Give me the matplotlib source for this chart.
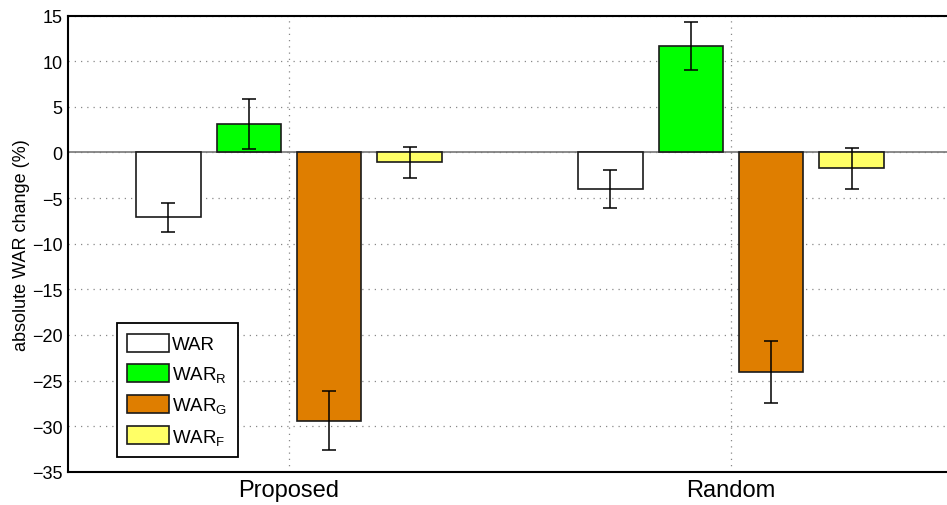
import matplotlib
matplotlib.use("Agg")
import matplotlib.pyplot as plt
import numpy as np

plt.rcParams['font.family'] = ['Liberation Sans', 'DejaVu Sans']
plt.rcParams['mathtext.fontset'] = 'custom'
plt.rcParams['mathtext.rm'] = 'Liberation Sans'
plt.rcParams['mathtext.it'] = 'Liberation Sans'

groups = ["Proposed", "Random"]
series = ["WAR", "WAR$_\\mathregular{R}$", "WAR$_\\mathregular{G}$", "WAR$_\\mathregular{F}$"]
values = {
    "WAR":   [-7.1, -4.0],
    "WAR_R": [3.1, 11.7],
    "WAR_G": [-29.4, -24.1],
    "WAR_F": [-1.05, -1.75],
}
errors = {
    "WAR":   [1.6, 2.05],
    "WAR_R": [2.75, 2.6],
    "WAR_G": [3.25, 3.4],
    "WAR_F": [1.7, 2.25],
}
colors = ["#FFFFFF", "#00FF00", "#DF7E00", "#FFFF66"]
yticks = list(range(-35, 20, 5))

fig = plt.figure(figsize=(9.47, 5.06), dpi=100)
ax = fig.add_axes([68/947, 1 - 472.7/506, (952-68)/947, (472.7-16.7)/506])

x = np.arange(1, len(groups) + 1)
step = 0.182
width = 0.146
keys = list(values.keys())
for i, (k, lab, c) in enumerate(zip(keys, series, colors)):
    pos = x + (i - 1.5) * step
    ax.bar(pos, values[k], width, color=c, edgecolor="#1a1a1a", linewidth=1.2,
           label=lab, zorder=3)
    ax.errorbar(pos, values[k], yerr=errors[k], fmt="none", ecolor="black",
                elinewidth=1.1, capsize=5, capthick=1.1, zorder=4)

ax.axhline(0, color="#777777", linewidth=1.2, zorder=2)
ax.set_xlim(0.5, 2.5)
ax.set_ylim(-35, 15)
ax.set_yticks(yticks)
ax.set_yticklabels([str(t).replace("-", "\u2212") for t in yticks], fontsize=13)
ax.set_xticks(x)
ax.set_xticklabels(groups, fontsize=17)
ax.tick_params(axis="both", direction="in", length=0, pad=4)
ax.tick_params(axis="x", pad=5)
ax.grid(True, linestyle=(0, (1, 4)), color="#888888", linewidth=0.9, zorder=0)
ax.set_axisbelow(True)
ax.set_ylabel("absolute WAR change (%)", fontsize=13, labelpad=1)
for s in ["left", "top", "bottom"]:
    ax.spines[s].set_linewidth(1.5)
ax.spines["right"].set_visible(False)

leg = ax.legend(loc="lower left", bbox_to_anchor=((117-68)/884, (472.7-458)/456),
                fontsize=13.5, frameon=True, fancybox=False, edgecolor="black",
                framealpha=1.0,
                handlelength=2.2, handleheight=1.1, labelspacing=0.58,
                borderpad=0.55, handletextpad=0.2, borderaxespad=0)
leg.get_frame().set_linewidth(1.3)

fig.savefig("out.png", dpi=100)
